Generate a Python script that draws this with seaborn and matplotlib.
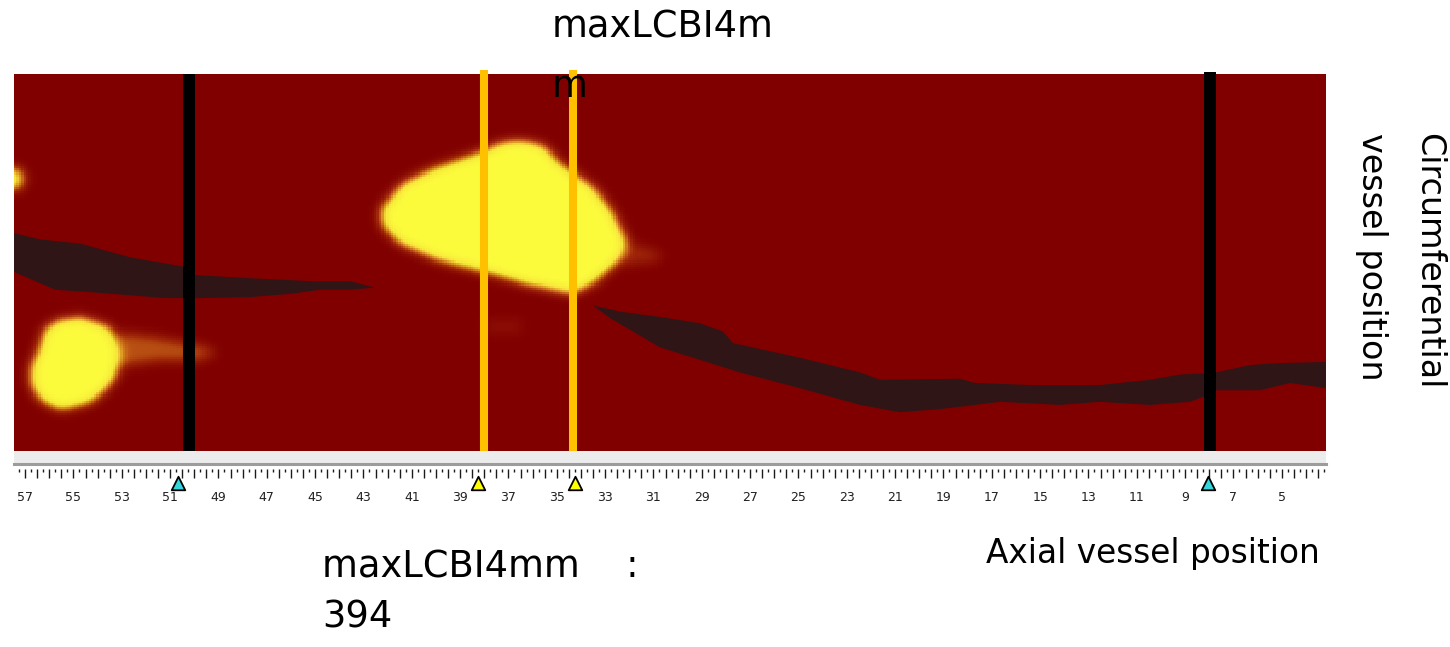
import numpy as np
import pandas as pd
import seaborn as sns
import matplotlib.pyplot as plt
from matplotlib.path import Path
from matplotlib.colors import LinearSegmentedColormap
from matplotlib.ticker import MultipleLocator, FuncFormatter

# axial window shown (mm, pullback runs right to left) and circumferential range (deg)
axial_start, axial_end = 57.46, 3.17
circ_max = 360

# lipid outlines: axial mm, circumferential deg, yellow level
lipid_big_axial = [42.31, 41.36, 39.95, 38.17, 37.35, 36.52, 35.57, 34.87, 33.50, 32.67,
                   32.09, 32.38, 33.50, 34.33, 36.23, 37.64, 39.71, 41.49, 42.19]
lipid_big_circ = [130, 104, 89, 75, 66, 63, 68, 85, 108, 133,
                  161, 178, 200, 210, 201, 191, 179, 162, 146]
lipid_big_level = 1.0

lipid_small_axial = [56.17, 55.55, 54.72, 53.48, 53.07, 53.28, 54.31, 55.55, 56.38, 56.79, 56.71, 56.38]
lipid_small_circ = [242, 235, 232, 242, 266, 292, 314, 321, 311, 295, 278, 261]
lipid_small_level = 1.0

tail_small_axial = [53.3, 51.8, 49.8, 49.1, 49.8, 51.8, 53.3]
tail_small_circ = [247, 250, 259, 266, 273, 275, 280]
tail_small_level = 0.36

tail_big_axial = [32.3, 31.0, 30.6, 31.2, 32.3]
tail_big_circ = [160, 168, 174, 180, 182]
tail_big_level = 0.22

edge_axial = [57.7, 57.2, 57.05, 57.2, 57.7]
edge_circ = [86, 92, 100, 108, 114]
edge_level = 0.9

faint_axial = [38.0, 36.5, 36.5, 38.0]
faint_circ = [234, 234, 248, 248]
faint_level = 0.08

# guide wire shadow (dark band), two segments, top and bottom edges
wire1_top_axial = [57.46, 56.38, 54.72, 52.66, 50.46, 49.97, 47.69, 45.00, 43.55, 42.52]
wire1_top_circ = [152, 158, 162, 175, 184, 192, 195, 198, 198, 204]
wire1_bot_axial = [57.46, 55.76, 53.90, 51.21, 49.76, 47.69, 46.04, 44.79, 43.55, 42.52]
wire1_bot_circ = [189, 206, 209, 214, 214, 213, 210, 206, 206, 204]

wire2_top_axial = [33.50, 32.38, 30.73, 29.07, 28.12, 27.71, 24.94, 22.45, 21.63, 18.32,
                   17.70, 15.42, 12.52, 10.45, 9.21, 8.22, 7.72, 6.32, 5.08, 3.17]
wire2_top_circ = [221, 227, 232, 238, 246, 257, 271, 285, 292, 291,
                  295, 297, 297, 292, 287, 286, 285, 278, 276, 275]
wire2_bot_axial = [33.50, 32.80, 30.73, 29.07, 27.42, 24.94, 22.45, 20.80, 19.14, 17.70, 16.66,
                   15.83, 14.18, 12.52, 10.45, 8.80, 8.22, 7.72, 5.90, 4.66, 3.17]
wire2_bot_circ = [221, 233, 261, 273, 285, 300, 316, 323, 320, 316, 313,
                  314, 316, 313, 316, 313, 308, 302, 302, 295, 300]

# markers on the pullback
block_lines = [50.21, 7.97]      # black 4mm block limits
max_lines = [38.01, 34.33]       # orange maxLCBI4mm window
block_tri = [50.67, 8.05]
max_tri = [38.26, 34.24]

max_lcbi = 394

# build the lipid probability grid from the outlines
ncol, nrow = 543, 180
axial_c = axial_start + (np.arange(ncol) + 0.5) * (axial_end - axial_start) / ncol
circ_c = (np.arange(nrow) + 0.5) * circ_max / nrow
gx, gy = np.meshgrid(axial_c, circ_c)
pts = np.column_stack([gx.ravel(), gy.ravel()])

shapes = [(lipid_big_axial, lipid_big_circ, lipid_big_level),
          (lipid_small_axial, lipid_small_circ, lipid_small_level),
          (tail_small_axial, tail_small_circ, tail_small_level),
          (tail_big_axial, tail_big_circ, tail_big_level),
          (edge_axial, edge_circ, edge_level),
          (faint_axial, faint_circ, faint_level)]
grid = np.zeros(nrow * ncol)
for a, c, lvl in shapes:
    inside = Path(np.column_stack([a, c])).contains_points(pts)
    grid = np.maximum(grid, inside * lvl)
grid = grid.reshape(nrow, ncol)


def soften(g, s_col, s_row):
    def kern(s):
        r = int(3 * s) + 1
        k = np.exp(-0.5 * (np.arange(-r, r + 1) / s) ** 2)
        return k / k.sum()
    def conv(line, k):
        p = len(k) // 2
        return np.convolve(np.pad(line, p, mode='edge'), k, mode='valid')
    kc, kr = kern(s_col), kern(s_row)
    g = np.apply_along_axis(conv, 1, g, kc)
    g = np.apply_along_axis(conv, 0, g, kr)
    return g


grid = soften(grid, 2.4, 2.5)
lipid_df = pd.DataFrame(grid, index=np.round(circ_c, 1), columns=np.round(axial_c, 2))

cmap = LinearSegmentedColormap.from_list(
    'chemo', ['#800000', '#a22a0a', '#d4801e', '#f6e43a', '#fbfb3c'])

sns.set_style('white')
plt.rcParams['font.family'] = ['DejaVu Sans']

W, H = 1450, 647
fig = plt.figure(figsize=(W / 100, H / 100), dpi=100)
x0, pw = 14 / W, 1312 / W

# chemogram
ax = fig.add_axes([x0, 1 - 451 / H, pw, 377 / H])
sns.heatmap(lipid_df, ax=ax, cmap=cmap, vmin=0, vmax=1, cbar=False,
            xticklabels=False, yticklabels=False, rasterized=True)
ax.axis('off')

# overlay in axial / circumferential units
ov = fig.add_axes([x0, 1 - 451 / H, pw, 377 / H])
ov.set_xlim(axial_start, axial_end)
ov.set_ylim(circ_max, 0)
ov.axis('off')
ov.patch.set_alpha(0)
for ta, tc, ba, bc in [(wire1_top_axial, wire1_top_circ, wire1_bot_axial, wire1_bot_circ),
                       (wire2_top_axial, wire2_top_circ, wire2_bot_axial, wire2_bot_circ)]:
    ov.fill(np.r_[ta, ba[::-1]], np.r_[tc, bc[::-1]], color='#2f1516', lw=0)
for v, top in zip(block_lines, [1.0, 1.005]):
    ov.axvline(v, ymin=0, ymax=top, color='black', lw=8.6, clip_on=False,
               solid_capstyle='butt')
for v in max_lines:
    ov.axvline(v, ymin=-0.005, ymax=1.011, color='#ffc000', lw=5.8, clip_on=False,
               solid_capstyle='butt')

# grey strip under the chemogram
strip = fig.add_axes([x0, 1 - 463.5 / H, pw, 12.5 / H])
strip.set_xlim(axial_start, axial_end)
strip.set_facecolor('#ececec')
for s in ['top', 'left', 'right']:
    strip.spines[s].set_visible(False)
strip.spines['bottom'].set_color('#9c9c9c')
strip.spines['bottom'].set_linewidth(2.2)
strip.set_xticks([])
strip.set_yticks([])

# ruler
rl = fig.add_axes([x0, 1 - 490 / H, pw, 21 / H])
rl.set_xlim(axial_start, axial_end)
rl.set_ylim(0, 1)
for s in rl.spines.values():
    s.set_visible(False)
rl.patch.set_alpha(0)
rl.set_yticks([])
rl.xaxis.set_major_locator(MultipleLocator(0.5))
rl.xaxis.set_minor_locator(MultipleLocator(0.25))
rl.xaxis.set_major_formatter(FuncFormatter(
    lambda v, p: str(int(round(v))) if abs(v - round(v)) < 1e-6 and int(round(v)) % 2 == 1 else ''))
rl.tick_params(axis='x', which='both', top=True, bottom=False, labeltop=False, labelbottom=True,
               direction='in', color='#1a1a1a', width=1.0, pad=1)
rl.tick_params(axis='x', which='major', length=6.5)
rl.tick_params(axis='x', which='minor', length=2.5)
for lab in rl.get_xticklabels():
    lab.set_fontsize(9)
    lab.set_color('#202020')
rl.scatter(block_tri, [0.33] * len(block_tri), marker='^', s=95, color='#33d6dc',
           edgecolor='black', linewidth=1.3, zorder=5, clip_on=False)
rl.scatter(max_tri, [0.33] * len(max_tri), marker='^', s=95, color='#ffff00',
           edgecolor='black', linewidth=1.3, zorder=5, clip_on=False)

# annotations
fig.text(552 / W, 1 - 97 / H, 'maxLCBI4m\nm', fontsize=26.5, va='baseline', ha='left',
         linespacing=1.78, color='black')
fig.text(322 / W, 1 - 628 / H, 'maxLCBI4mm    :\n' + str(max_lcbi), fontsize=26.5,
         va='baseline', ha='left', linespacing=1.48, color='black')
fig.text(1320 / W, 1 - 563 / H, 'Axial vessel position', fontsize=23.6, va='baseline',
         ha='right', color='black')
fig.text(1400 / W, 1 - 133 / H, 'Circumferential\nvessel position', fontsize=24,
         rotation=-90, ha='center', va='top', multialignment='left', linespacing=1.9,
         color='black')

fig.savefig('out.png', dpi=100)
